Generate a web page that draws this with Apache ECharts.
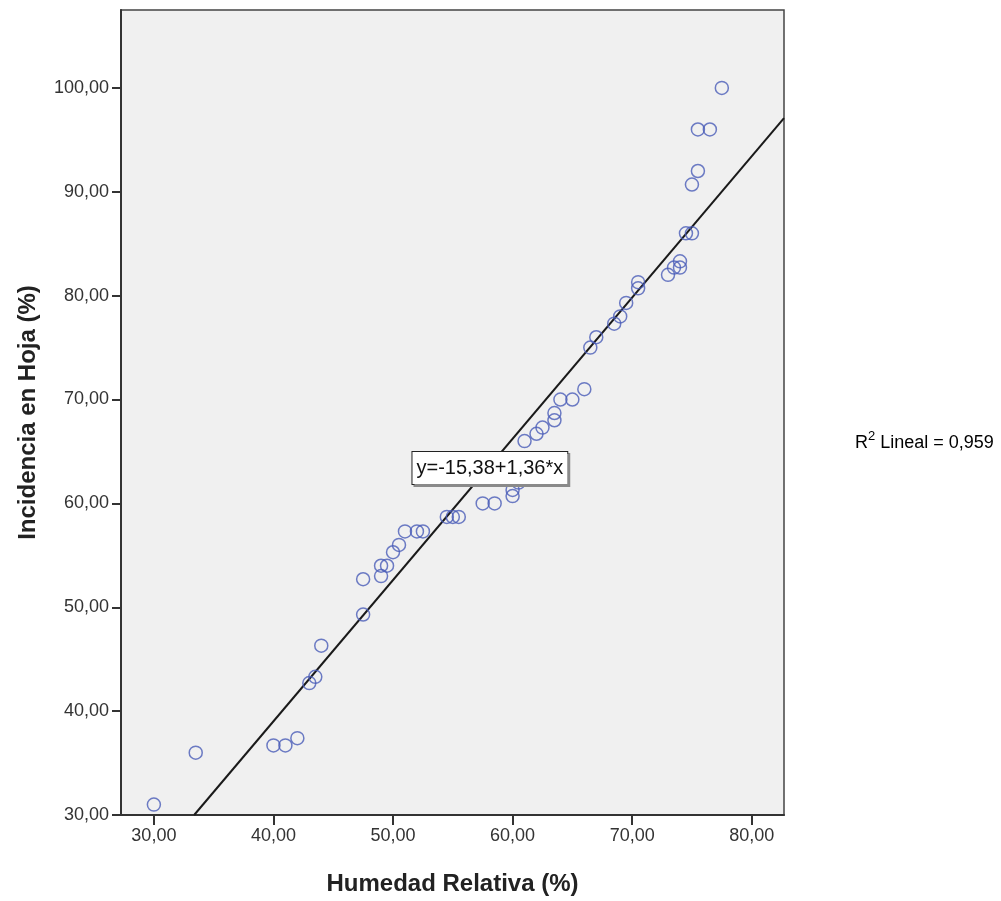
<!DOCTYPE html>
<html>
<head>
<meta charset="utf-8">
<script src="https://cdn.jsdelivr.net/npm/echarts@6/dist/echarts.min.js"></script>
<style>
  html, body { margin: 0; padding: 0; background: #ffffff; }
  #chart { width: 1001px; height: 901px; }
</style>
</head>
<body>
<div id="chart"></div>
<script>
// Relative humidity (%) observed at each sampling
const humedad = [
  30, 33.5, 40, 41, 42, 43, 43.5, 44, 47.5, 47.5,
  49, 49, 49.5, 50, 50.5, 51, 52, 52.5, 54.5, 55,
  55.5, 57.5, 58.5, 60, 60, 60.5, 61, 62, 62.5, 63.5,
  63.5, 64, 65, 66, 66.5, 67, 68.5, 69, 69.5, 70.5,
  70.5, 73, 73.5, 74, 74, 74.5, 75, 75, 75.5, 75.5,
  76.5, 77.5
];
// Leaf incidence (%) for the same samplings
const incidencia = [
  31, 36, 36.7, 36.7, 37.4, 42.7, 43.3, 46.3, 49.3, 52.7,
  53, 54, 54, 55.3, 56, 57.3, 57.3, 57.3, 58.7, 58.7,
  58.7, 60, 60, 60.7, 61.3, 62, 66, 66.7, 67.3, 68,
  68.7, 70, 70, 71, 75, 76, 77.3, 78, 79.3, 80.7,
  81.3, 82, 82.7, 83.3, 82.7, 86, 86, 90.7, 92, 96,
  96, 100
];
const xTicks = [30, 40, 50, 60, 70, 80];
const yTicks = [30, 40, 50, 60, 70, 80, 90, 100];

// Linear fit: y = a + b*x
const intercepto = -15.38;
const pendiente = 1.36;
const r2Lineal = 0.959;

const xMin = 27.25, xMax = 82.7;
const yMin = 30, yMax = 107.5;

const coma = (v, d) => v.toFixed(d).replace('.', ',');

const puntos = humedad.map((h, i) => [h, incidencia[i]]);

// Fit line runs from where it enters at the bottom of the plot to the right edge
const xInicio = (yMin - intercepto) / pendiente;
const recta = [
  [xInicio, intercepto + pendiente * xInicio],
  [xMax, intercepto + pendiente * xMax]
];

const ecuacion = 'y=' + coma(intercepto, 2) + '+' + coma(pendiente, 2) + '*x';

const chart = echarts.init(document.getElementById('chart'), null, { renderer: 'canvas' });

const tickFmt = v => coma(v, 2);

chart.setOption({
  animation: false,
  backgroundColor: '#ffffff',
  grid: {
    left: 121, top: 10, right: 217, bottom: 85,
    show: true,
    backgroundColor: '#f0f0f0',
    borderColor: '#444444',
    borderWidth: 1.5
  },
  xAxis: {
    type: 'value',
    min: xMin, max: xMax,
    name: 'Humedad Relativa (%)',
    nameLocation: 'middle',
    nameGap: 57,
    nameTextStyle: { fontFamily: 'Liberation Sans', fontWeight: 'bold', fontSize: 24, color: '#222' },
    axisLine: { show: true, lineStyle: { color: '#333', width: 2 } },
    axisTick: { show: true, length: 10, customValues: xTicks, lineStyle: { color: '#333', width: 2 } },
    axisLabel: {
      customValues: xTicks, formatter: tickFmt, margin: 12,
      fontFamily: 'Liberation Sans', fontSize: 18, color: '#333'
    },
    splitLine: { show: false }
  },
  yAxis: {
    type: 'value',
    min: yMin, max: yMax,
    name: 'Incidencia en Hoja (%)',
    nameLocation: 'middle',
    nameGap: 81,
    nameRotate: 90,
    nameTextStyle: { fontFamily: 'Liberation Sans', fontWeight: 'bold', fontSize: 24, color: '#222' },
    axisLine: { show: true, lineStyle: { color: '#333', width: 2 } },
    axisTick: { show: true, length: 9, customValues: yTicks, lineStyle: { color: '#333', width: 2 } },
    axisLabel: {
      customValues: yTicks, formatter: tickFmt, margin: 12,
      fontFamily: 'Liberation Sans', fontSize: 18, color: '#333'
    },
    splitLine: { show: false }
  },
  series: [
    {
      type: 'line',
      data: recta,
      symbol: 'none',
      clip: true,
      lineStyle: { color: '#1a1a1a', width: 2 },
      z: 3,
      markPoint: {
        symbol: 'circle',
        symbolSize: 1,
        itemStyle: { color: 'rgba(0,0,0,0)' },
        data: [{
          coord: [58.1, 63.4],
          label: {
            show: true,
            position: 'inside',
            formatter: ecuacion,
            fontFamily: 'Liberation Sans',
            fontSize: 20,
            color: '#111',
            backgroundColor: '#ffffff',
            borderColor: '#222',
            borderWidth: 1,
            padding: [6, 4, 6, 4],
            shadowColor: '#8a8a8a',
            shadowBlur: 0,
            shadowOffsetX: 2,
            shadowOffsetY: 2
          }
        }]
      }
    },
    {
      type: 'scatter',
      data: puntos,
      symbol: 'circle',
      symbolSize: 13,
      itemStyle: { color: 'rgba(0,0,0,0)', borderColor: '#4a5db8', borderWidth: 1.5 },
      z: 4
    }
  ],
  graphic: [{
    type: 'text',
    left: 855,
    top: 430,
    style: {
      text: '{r|R}{s|2}{r| Lineal = ' + coma(r2Lineal, 3) + '}',
      rich: {
        r: { fontFamily: 'Liberation Sans', fontSize: 18, lineHeight: 22, color: '#222', verticalAlign: 'bottom' },
        s: { fontFamily: 'Liberation Sans', fontSize: 13, lineHeight: 22, color: '#222', verticalAlign: 'top' }
      }
    }
  }]
});
</script>
</body>
</html>
